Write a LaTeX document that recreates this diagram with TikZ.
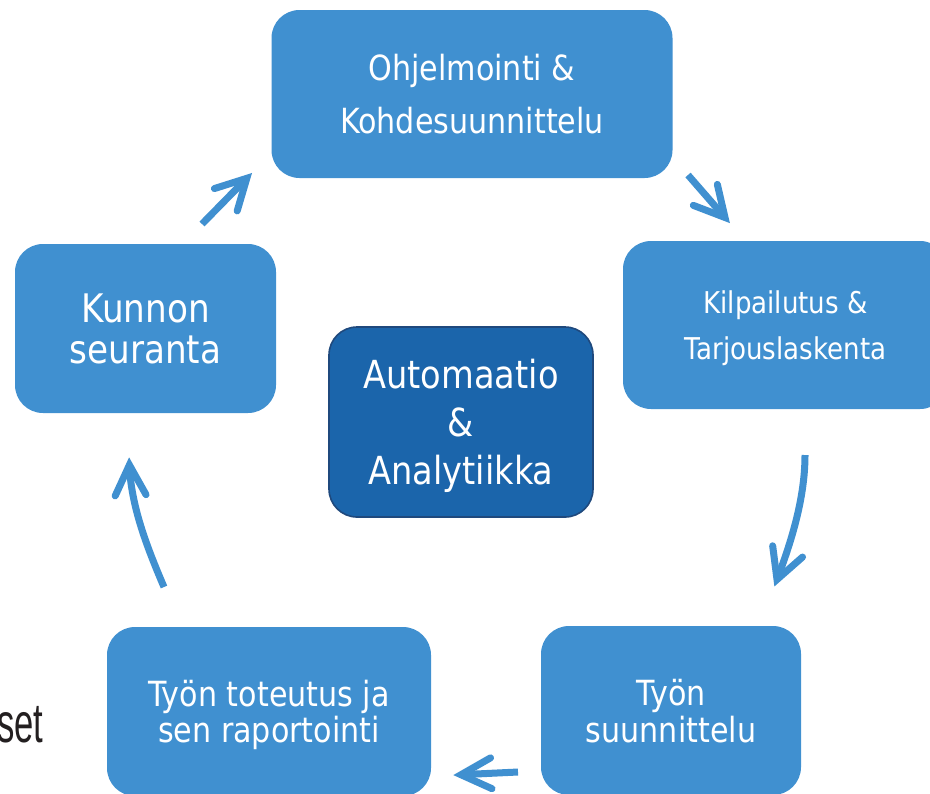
\documentclass[tikz,border=0pt]{standalone}
\usepackage{fontspec}
\setmainfont{DejaVu Sans}[FakeStretch=0.87]
\newfontfamily\setfnt{Liberation Sans}[FakeStretch=0.62]
\usetikzlibrary{calc}
\definecolor{boxblue}{RGB}{64,144,208}
\definecolor{darkblue}{RGB}{27,101,171}
\definecolor{darkedge}{RGB}{31,73,125}
\definecolor{setgray}{RGB}{35,31,32}
\tikzset{
  stagebox/.style={rectangle, rounded corners=21pt, fill=boxblue, text=white, align=center, inner sep=0pt, text depth=0pt},
  hubbox/.style={rectangle, rounded corners=21pt, fill=darkblue, draw=darkedge, line width=1.2pt, text=white, align=center, inner sep=0pt, text depth=0pt},
  flow/.style={draw=boxblue, line width=5.25pt, line cap=butt},
  barb/.style={draw=boxblue, line width=5.25pt, line cap=round, line join=miter},
}
\begin{document}
\begin{tikzpicture}[x=0.75pt,y=-0.75pt]
\useasboundingbox (0,0) rectangle (930,793);
\fill[white] (0,0) rectangle (930,793);
\clip (0,0) rectangle (930,793);

% stage boxes
\node[stagebox, minimum width=300.75pt, minimum height=126pt, font=\fontsize{26}{39.75}\selectfont] (ohj) at (472,94) {Ohjelmointi \&\\Kohdesuunnittelu};
\node[stagebox, minimum width=243.75pt, minimum height=126pt, font=\fontsize{22.5}{34.5}\selectfont] (kilp) at (785.5,325) {Kilpailutus \&\\Tarjouslaskenta};
\node[stagebox, minimum width=195.75pt, minimum height=126.75pt, font=\fontsize{29.5}{30.75}\selectfont] (kunnon) at (145.5,328.5) {Kunnon\\seuranta};
\node[stagebox, minimum width=195pt, minimum height=126.75pt, font=\fontsize{26}{27.75}\selectfont] (tsuun) at (671,710.5) {Työn\\suunnittelu};
\node[stagebox, minimum width=243pt, minimum height=126.75pt, font=\fontsize{26}{27}\selectfont] (ttot) at (269,711.5) {Työn toteutus ja\\sen raportointi};

% hub
\node[hubbox, minimum width=198pt, minimum height=142.5pt, font=\fontsize{29}{36}\selectfont] (hub) at (461,422) {Automaatio\\\&\\Analytiikka};

% partial slide text (cut at the left edge)
\node[font=\setfnt\fontsize{41.9}{50}\selectfont, text=setgray, anchor=base east, inner sep=0pt] (setword) at (43.5,742) {set};

% arrow 1: Kunnon -> Ohjelmointi
\coordinate (a1t) at (202,224);
\coordinate (a1v) at (246.8,178.3);
\draw[flow] (a1t) -- (a1v);
\draw[barb] ($(a1v)!25.5pt!28:(a1t)$) -- (a1v) -- ($(a1v)!25.5pt!-28:(a1t)$);

% arrow 2: Ohjelmointi -> Kilpailutus
\coordinate (a2t) at (688,175);
\coordinate (a2v) at (725,217.5);
\draw[flow] (a2t) -- (a2v);
\draw[barb] ($(a2v)!25.5pt!28:(a2t)$) -- (a2v) -- ($(a2v)!25.5pt!-28:(a2t)$);

% arrow 3: Kilpailutus -> Tyon suunnittelu
\coordinate (a3t) at (805,455);
\coordinate (a3c) at (790,545);
\coordinate (a3v) at (777,579.5);
\draw[flow] (a3t) .. controls (805,500) and (a3c) .. (a3v);
\draw[barb] ($(a3v)!25.5pt!28:(a3c)$) -- (a3v) -- ($(a3v)!25.5pt!-28:(a3c)$);

% arrow 4: Tyon suunnittelu -> Tyon toteutus
\coordinate (a4t) at (518,772);
\coordinate (a4v) at (461,774.7);
\draw[flow] (a4t) -- (a4v);
\draw[barb] ($(a4v)!25.5pt!27:(a4t)$) -- (a4v) -- ($(a4v)!25.5pt!-27:(a4t)$);

% arrow 5: Tyon toteutus -> Kunnon seuranta
\coordinate (a5t) at (164,587);
\coordinate (a5c) at (131,505);
\coordinate (a5v) at (129.4,465);
\draw[flow] (a5t) .. controls (146,545) and (a5c) .. (a5v);
\draw[barb] ($(a5v)!25.5pt!27:(a5c)$) -- (a5v) -- ($(a5v)!25.5pt!-27:(a5c)$);
\end{tikzpicture}
\end{document}
